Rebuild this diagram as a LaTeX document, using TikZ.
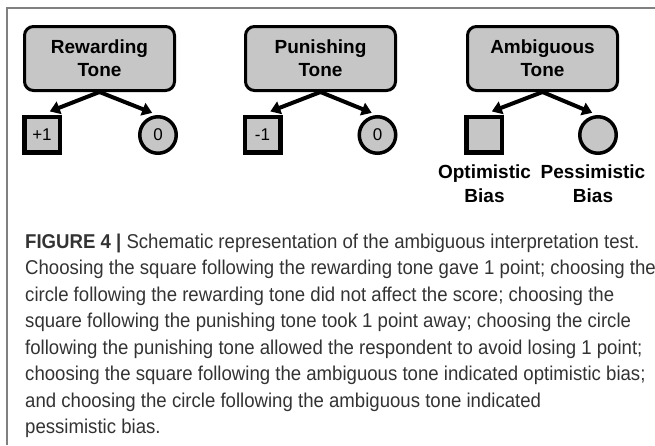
\documentclass[tikz,border=0pt]{standalone}
\usepackage{fontspec}
\setmainfont{Liberation Sans}
\newfontfamily\capfont[FakeStretch=0.93]{Liberation Sans}
\usetikzlibrary{arrows.meta,calc}
\definecolor{boxgray}{HTML}{C6C6C6}
\definecolor{framegray}{HTML}{808080}
\definecolor{captext}{HTML}{333333}
\tikzset{
  tone/.style={draw=black, line width=3pt, fill=boxgray, rounded corners=9pt,
    minimum width=150pt, minimum height=64pt, align=center, inner sep=0pt,
    font=\fontsize{19}{23}\selectfont\bfseries},
  sq/.style={draw=black, line width=4.5pt, fill=boxgray, minimum size=35.5pt,
    inner sep=0pt, font=\fontsize{17}{18}\selectfont},
  circ/.style={draw=black, line width=3.5pt, fill=boxgray, circle, minimum size=36.5pt,
    inner sep=0pt, font=\fontsize{17}{18}\selectfont},
  arr/.style={line width=4pt, -{Triangle[length=10pt,width=13pt]}, shorten >=3pt},
  biaslbl/.style={align=center, inner sep=0pt, anchor=base,
    font=\fontsize{19}{24}\selectfont\bfseries},
  capline/.style={anchor=base west, inner sep=0pt, text=captext,
    font=\fontsize{20}{22}\capfont},
}
\begin{document}
\begin{tikzpicture}[x=1pt,y=-1pt]
\useasboundingbox (0,0) rectangle (655,445);
% frame
\draw[framegray, line width=1.5pt] (7,445) -- (7,8) -- (655,8);
% tones
\node[tone] (rt) at (99.5,58.5) {Rewarding\\Tone};
\node[tone] (pt) at (320.5,58.5) {Punishing\\Tone};
\node[tone] (at) at (542.5,58.5) {Ambiguous\\Tone};
% outcomes
\node[sq] (rs) at (42,134.5) {+1};
\node[circ] (rc) at (158,135) {0};
\node[sq] (ps) at (262.5,134.5) {-1};
\node[circ] (pc) at (377.5,135) {0};
\node[sq] (as) at (484,134.5) {};
\node[circ] (ac) at (598,135) {};
% arrows
\draw[arr] (rt.south) -- ($(rs.north)+(5,-2)$);
\draw[arr] (rt.south) -- ($(rc.north)+(-3,-1)$);
\draw[arr] (pt.south) -- ($(ps.north)+(5,-2)$);
\draw[arr] (pt.south) -- ($(pc.north)+(-3,-1)$);
\draw[arr] (at.south) -- ($(as.north)+(5,-2)$);
\draw[arr] (at.south) -- ($(ac.north)+(-3,-1)$);
% bias labels
\node[biaslbl] (ob) at (484.5,202) {Optimistic\\Bias};
\node[biaslbl] (pb) at (593,202) {Pessimistic\\Bias};
% caption
\node[capline] (c1) at (25,248) {{\bfseries FIGURE 4 |} Schematic representation of the ambiguous interpretation test.};
\node[capline] (c2) at (25,274.5) {Choosing the square following the rewarding tone gave 1 point; choosing the};
\node[capline] (c3) at (25,301) {circle following the rewarding tone did not affect the score; choosing the};
\node[capline] (c4) at (25,327.5) {square following the punishing tone took 1 point away; choosing the circle};
\node[capline] (c5) at (25,354) {following the punishing tone allowed the respondent to avoid losing 1 point;};
\node[capline] (c6) at (25,380.5) {choosing the square following the ambiguous tone indicated optimistic bias;};
\node[capline] (c7) at (25,407) {and choosing the circle following the ambiguous tone indicated};
\node[capline] (c8) at (25,433) {pessimistic bias.};
\end{tikzpicture}
\end{document}
